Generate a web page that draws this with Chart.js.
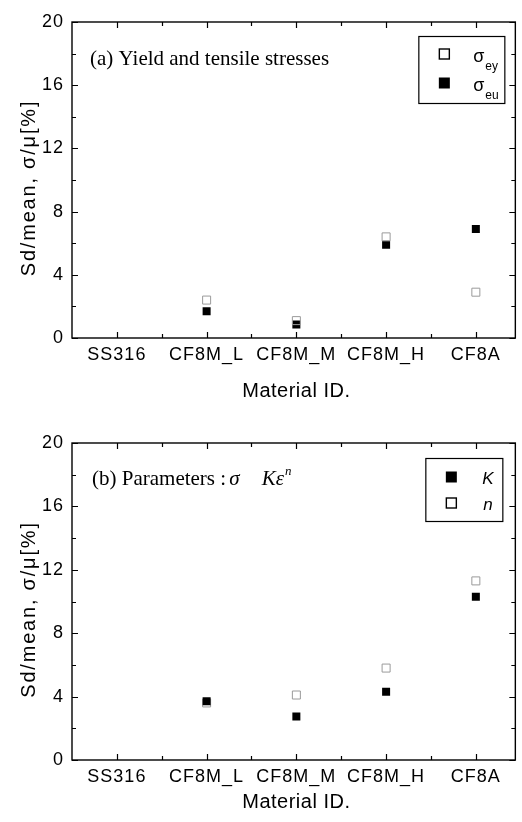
<!DOCTYPE html>
<html>
<head>
<meta charset="utf-8">
<script src="https://cdn.jsdelivr.net/npm/chart.js@4.4.1/dist/chart.umd.min.js"></script>
<style>
  html, body { margin: 0; padding: 0; background: #fff; }
  #wrap { position: relative; width: 522px; height: 822px; }
  .panel { position: absolute; left: 0; width: 522px; height: 411px; }
</style>
</head>
<body>
<div id="wrap">
  <div class="panel" style="top:0"><canvas id="chartA"></canvas></div>
  <div class="panel" style="top:411px"><canvas id="chartB"></canvas></div>
</div>
<script>
// Material categories on the x axis
const materials = ['SS316', 'CF8M_L', 'CF8M_M', 'CF8M_H', 'CF8A'];

// (a) scatter of yield (sigma_ey) and tensile (sigma_eu) stresses, Sd/mean in %
const yieldSd   = [null, 2.4, 1.1, 6.4, 2.9];
const tensileSd = [null, 1.7, 0.85, 5.9, 6.9];

// (b) scatter of the power-law parameters K and n, Sd/mean in %
const kSd = [null, 3.7, 2.75, 4.3, 10.3];
const nSd = [null, 3.6, 4.1, 5.8, 11.3];

// y axis labels
const yTicks = [0, 4, 8, 12, 16, 20];
const yMinor = [2, 6, 10, 14, 18];
const xMinor = [0.5, 1.5, 2.5, 3.5];

const SANS = '"Liberation Sans", Arial, sans-serif';
const SERIF = '"Liberation Serif", "Times New Roman", serif';

const toPoints = arr => arr.map((v, i) => ({ x: i, y: v }));

function square(ctx, cx, cy, size, filled, lw) {
  ctx.save();
  ctx.lineWidth = lw || 1.3;
  ctx.strokeStyle = '#000';
  ctx.fillStyle = '#000';
  if (filled) ctx.fillRect(cx - size / 2, cy - size / 2, size, size);
  else ctx.strokeRect(cx - size / 2 + 0.5, cy - size / 2 + 0.5, size - 1, size - 1);
  ctx.restore();
}

// Frame with inward ticks on all four sides, plus axis titles
const frame = {
  id: 'frame',
  beforeDraw(chart) {
    chart.ctx.letterSpacing = '1px';
  },
  afterDraw(chart) {
    const { ctx, chartArea: a, scales: { x, y } } = chart;
    ctx.save();
    ctx.letterSpacing = '0px';
    ctx.strokeStyle = '#000';
    ctx.lineWidth = 1.4;
    ctx.strokeRect(a.left, a.top, a.right - a.left, a.bottom - a.top);
    ctx.lineWidth = 1.2;
    ctx.beginPath();
    const tickY = (v, len) => {
      const py = Math.round(y.getPixelForValue(v)) + 0.5;
      ctx.moveTo(a.left, py); ctx.lineTo(a.left + len, py);
      ctx.moveTo(a.right, py); ctx.lineTo(a.right - len, py);
    };
    const tickX = (v, len) => {
      const px = Math.round(x.getPixelForValue(v)) + 0.5;
      ctx.moveTo(px, a.bottom); ctx.lineTo(px, a.bottom - len);
      ctx.moveTo(px, a.top); ctx.lineTo(px, a.top + len);
    };
    yTicks.forEach(v => tickY(v, 6));
    yMinor.forEach(v => tickY(v, 4));
    materials.forEach((_, i) => tickX(i, 6));
    xMinor.forEach(v => tickX(v, 4));
    ctx.stroke();

    // axis titles
    ctx.fillStyle = '#000';
    ctx.font = '20px ' + SANS;
    ctx.textAlign = 'center';
    ctx.textBaseline = 'alphabetic';
    ctx.letterSpacing = '0.5px';
    ctx.fillText('Material ID.', x.getPixelForValue(2), chart.height - 14.5);

    ctx.save();
    ctx.translate(35, (a.top + a.bottom) / 2 + 8);
    ctx.rotate(-Math.PI / 2);
    ctx.font = '20px ' + SANS;
    ctx.letterSpacing = '1.8px';
    ctx.fillText('Sd/mean, \u03C3/\u03BC[%]', 0, 0);
    ctx.restore();
    ctx.restore();
  }
};

// Panel label and legend for (a)
const decoA = {
  id: 'decoA',
  afterDraw(chart) {
    const { ctx, chartArea: a } = chart;
    ctx.save();
    ctx.letterSpacing = '0px';
    ctx.fillStyle = '#000';
    ctx.textAlign = 'left';
    ctx.textBaseline = 'alphabetic';
    ctx.font = '21px ' + SERIF;
    ctx.fillText('(a) Yield and tensile stresses', a.left + 18, a.top + 43);

    const bx = a.right - 97, by = a.top + 14;
    ctx.lineWidth = 1.2;
    ctx.strokeStyle = '#000';
    ctx.strokeRect(bx + 0.5, by + 0.5, 86, 67);
    square(ctx, bx + 26, by + 18, 11, false, 1.4);
    square(ctx, bx + 26, by + 47, 11, true);
    ctx.font = '18px ' + SANS;
    ctx.fillText('\u03C3', bx + 55, by + 26);
    ctx.fillText('\u03C3', bx + 55, by + 55);
    ctx.font = '12px ' + SANS;
    ctx.fillText('ey', bx + 67, by + 34);
    ctx.fillText('eu', bx + 67, by + 63);
    ctx.restore();
  }
};

// Panel label and legend for (b)
const decoB = {
  id: 'decoB',
  afterDraw(chart) {
    const { ctx, chartArea: a } = chart;
    ctx.save();
    ctx.letterSpacing = '0px';
    ctx.fillStyle = '#000';
    ctx.textAlign = 'left';
    ctx.textBaseline = 'alphabetic';
    const x0 = a.left + 20, base = a.top + 42;
    ctx.font = '21px ' + SERIF;
    const lead = '(b) Parameters : ';
    ctx.fillText(lead, x0, base);
    let px = x0 + ctx.measureText(lead).width - 2;
    ctx.font = 'italic 21px ' + SERIF;
    ctx.fillText('\u03C3', px, base);
    px += ctx.measureText('\u03C3').width + 22;
    ctx.fillText('K\u03B5', px, base);
    px += ctx.measureText('K\u03B5').width + 1;
    ctx.font = 'italic 13px ' + SERIF;
    ctx.fillText('n', px, base - 10);

    const bx = a.right - 90, by = a.top + 15;
    ctx.lineWidth = 1.2;
    ctx.strokeStyle = '#000';
    ctx.strokeRect(bx + 0.5, by + 0.5, 77, 63);
    square(ctx, bx + 26, by + 19, 11, true);
    square(ctx, bx + 26, by + 45, 11, false, 1.4);
    ctx.font = 'italic 17px ' + SANS;
    ctx.fillText('K', bx + 57, by + 26);
    ctx.fillText('n', bx + 58, by + 52);
    ctx.restore();
  }
};

function makePanel(id, topPad, xAxisH, datasets, deco) {
  return new Chart(document.getElementById(id), {
    type: 'scatter',
    data: { datasets },
    options: {
      responsive: true,
      maintainAspectRatio: false,
      animation: false,
      events: [],
      layout: { padding: { top: topPad, right: 3, left: 0, bottom: 0 } },
      plugins: { legend: { display: false }, tooltip: { enabled: false } },
      scales: {
        x: {
          type: 'linear',
          min: -0.5,
          max: 4.44,
          afterBuildTicks: s => { s.ticks = materials.map((_, i) => ({ value: i })); },
          afterFit: s => { s.height = xAxisH; },
          grid: { display: false, drawTicks: false },
          border: { display: false },
          ticks: {
            color: '#000',
            padding: 6,
            maxRotation: 0,
            autoSkip: false,
            font: { family: SANS, size: 18 },
            callback: v => materials[v] ?? ''
          }
        },
        y: {
          min: 0,
          max: 20,
          afterBuildTicks: s => { s.ticks = yTicks.map(v => ({ value: v })); },
          afterFit: s => { s.width = 72; },
          grid: { display: false, drawTicks: false },
          border: { display: false },
          ticks: { color: '#000', padding: 8, font: { family: SANS, size: 18 } }
        }
      }
    },
    plugins: [frame, deco]
  });
}

const openStyle = {
  pointStyle: 'rect', pointRadius: 5.66,
  backgroundColor: 'rgba(255,255,255,0)', borderColor: '#9a9a9a', borderWidth: 1
};
const filledStyle = {
  pointStyle: 'rect', pointRadius: 5.66,
  backgroundColor: '#000', borderColor: '#000', borderWidth: 0
};

makePanel('chartA', 22, 73, [
  Object.assign({ label: '\u03C3ey', data: toPoints(yieldSd) }, openStyle),
  Object.assign({ label: '\u03C3eu', data: toPoints(tensileSd) }, filledStyle)
], decoA);

makePanel('chartB', 32, 62, [
  Object.assign({ label: 'K', data: toPoints(kSd) }, filledStyle),
  Object.assign({ label: 'n', data: toPoints(nSd) }, openStyle)
], decoB);
</script>
</body>
</html>
